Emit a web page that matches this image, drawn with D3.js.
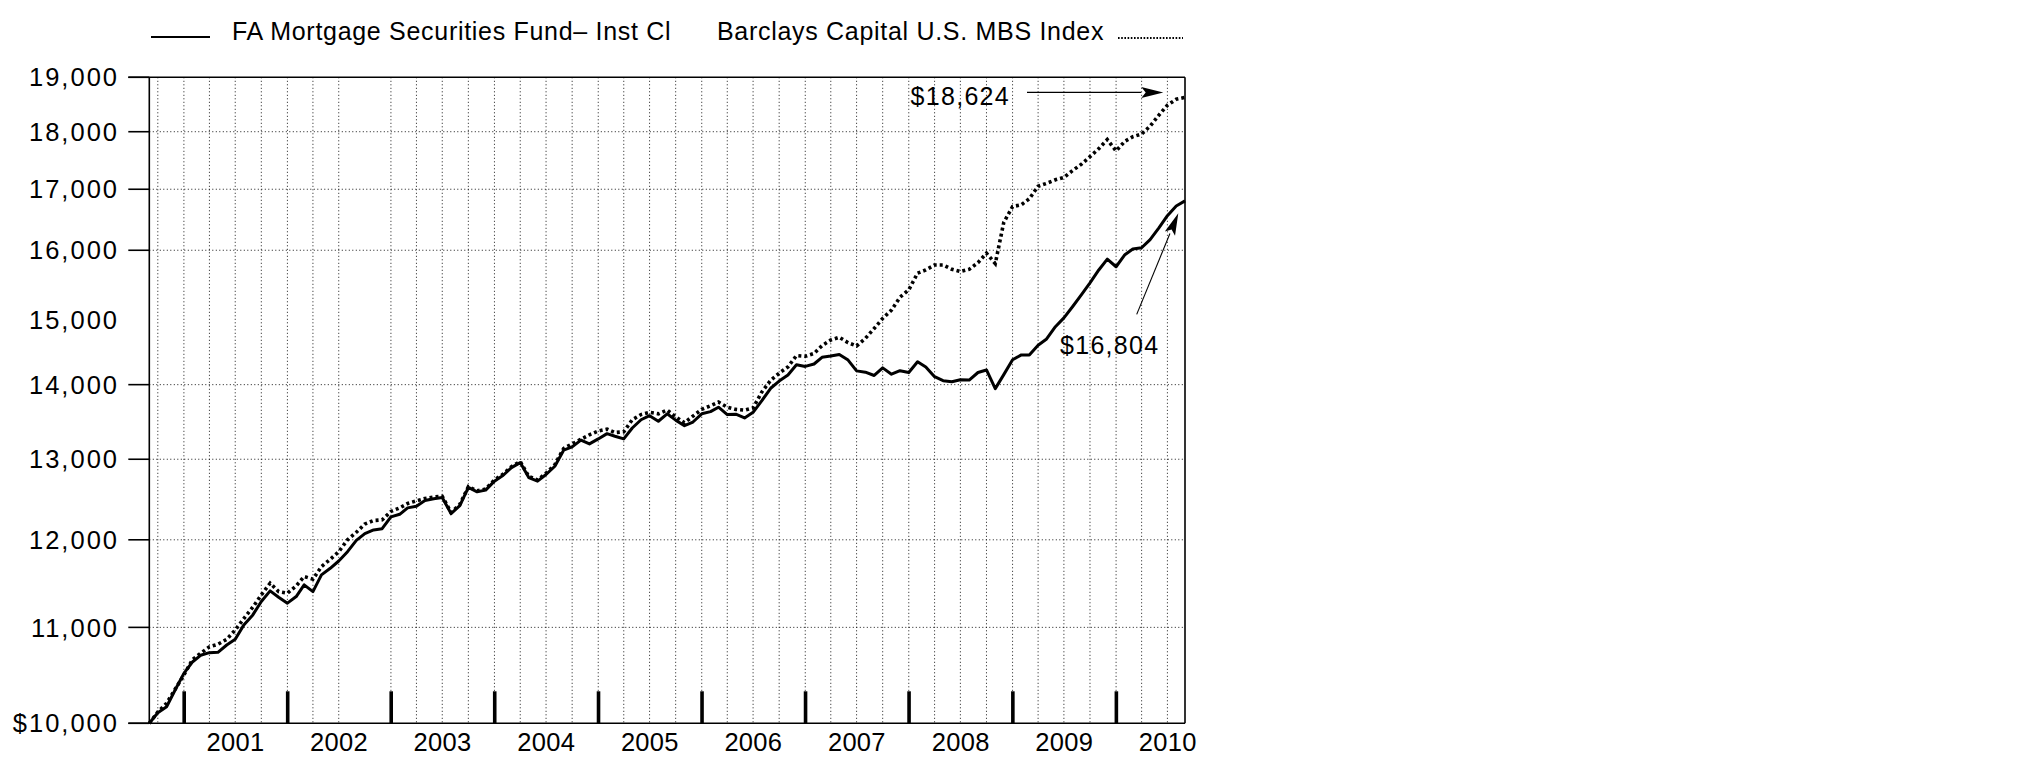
<!DOCTYPE html>
<html>
<head>
<meta charset="utf-8">
<script src="https://cdn.jsdelivr.net/npm/d3@7"></script>
<style>
html,body{margin:0;padding:0;background:#fff;}
svg{display:block;}
text{font-family:"Liberation Sans",Arial,Helvetica,sans-serif;fill:#000;}
</style>
</head>
<body>
<svg id="chart" width="2025" height="773"></svg>
<script>
// ---- data (month-end values, Aug 2000 .. Aug 2010) ----
const seriesNames = ["FA Mortgage Securities Fund\u2013 Inst Cl", "Barclays Capital U.S. MBS Index"];
const startYear = 2000, startMonth = 7; // August 2000 (0-based month)
const fundValues = [
  10000,10106,10166,10336,10509,10631,10699,10727,10731,10809,10870,11030,11137,11286,11406,11335,11268,11342,11475,11398,11589,11665,11750,11859,11993,
  12074,12118,12133,12276,12308,12387,12407,12477,12500,12516,12316,12415,12641,12586,12607,12720,12795,12892,12957,12766,12720,12804,12910,13117,13160,
  13250,13200,13265,13335,13300,13265,13410,13520,13575,13500,13600,13515,13440,13490,13600,13630,13690,13590,13595,13545,13620,13780,13950,14050,14135,14280,14256,
  14290,14385,14403,14427,14346,14193,14175,14128,14235,14146,14196,14170,14322,14248,14111,14055,14041,14069,14064,14170,14206,13945,
  14140,14350,14420,14420,14560,14650,14830,14960,15130,15310,15490,15690,15860,15740,15930,16020,16040,16170,16360,16560,16720,16804
];
const indexValues = [
  10000,10113,10201,10344,10492,10656,10720,10790,10817,10870,10971,11100,11223,11361,11494,11398,11380,11463,11570,11540,11685,11770,11859,12000,12090,
  12190,12232,12240,12343,12387,12441,12474,12503,12521,12530,
  12330,12430,12650,12600,12620,12735,12810,12905,12970,12780,12735,12820,12930,
  13140,13200,13260,13320,13370,13395,13350,13360,13520,13590,13620,13600,13650,13560,13480,13570,13660,13710,13760,13690,13660,13650,13680,13900,14060,14160,14250,14410,14400,
  14441,14553,14635,14674,14596,14549,14659,14804,14952,15077,15271,15383,15640,15690,15768,15768,15700,15665,15700,15804,15953,15790,
  16450,16710,16740,16840,17050,17100,17160,17200,17320,17430,17560,17700,17860,17660,17830,17910,17960,18100,18300,18480,18590,18624
];
const yTickValues = [10000,11000,12000,13000,14000,15000,16000,17000,18000,19000];
const yTickLabels = ["$10,000","11,000","12,000","13,000","14,000","15,000","16,000","17,000","18,000","19,000"];
const yUnmarkedTicks = [15000];          // label only, no tick / gridline
const yearLabels = ["2001","2002","2003","2004","2005","2006","2007","2008","2009","2010"];
const skippedGridQuarters = ["2002-09"];  // missing vertical gridline
const endLabels = ["$18,624", "$16,804"];

// ---- layout ----
const svg = d3.select("#chart");
const L = 149.3, R = 1185, T = 77.3, B = 723.3;

const monthEnd = i => new Date(Date.UTC(startYear, startMonth + i + 1, 0));
const dates = fundValues.map((_, i) => monthEnd(i));

const x = d3.scaleUtc().domain([dates[0], dates[dates.length - 1]]).range([L, R]);
const y = d3.scaleLog().domain([10000, 19000]).range([B, T]);

// vertical dotted gridlines at quarter ends
const quarterEnds = [];
for (let i = 1; i < dates.length - 1; i++) {
  const d = dates[i];
  if ((d.getUTCMonth() + 1) % 3 === 0) {
    const key = d.getUTCFullYear() + "-" + String(d.getUTCMonth() + 1).padStart(2, "0");
    if (!skippedGridQuarters.includes(key)) quarterEnds.push(d);
  }
}
svg.append("g").selectAll("line").data(quarterEnds).join("line")
  .attr("x1", d => x(d)).attr("x2", d => x(d))
  .attr("y1", T).attr("y2", B)
  .attr("stroke", "#000").attr("stroke-width", 1)
  .attr("stroke-dasharray", "1,2.5").attr("opacity", 0.9);

// horizontal dotted gridlines
const hGrid = yTickValues.filter(v => v > 10000 && v < 19000 && !yUnmarkedTicks.includes(v));
svg.append("g").selectAll("line").data(hGrid).join("line")
  .attr("x1", L).attr("x2", R)
  .attr("y1", d => y(d)).attr("y2", d => y(d))
  .attr("stroke", "#000").attr("stroke-width", 1)
  .attr("stroke-dasharray", "1,2.5").attr("opacity", 0.9);

// frame
const tickLen = 21;
svg.append("line").attr("x1", L - tickLen).attr("x2", R).attr("y1", T).attr("y2", T).attr("stroke", "#000").attr("stroke-width", 1.6);
svg.append("line").attr("x1", L - tickLen).attr("x2", R).attr("y1", B).attr("y2", B).attr("stroke", "#000").attr("stroke-width", 1.6);
svg.append("line").attr("x1", L).attr("x2", L).attr("y1", T).attr("y2", B).attr("stroke", "#000").attr("stroke-width", 1.6);
svg.append("line").attr("x1", R).attr("x2", R).attr("y1", T).attr("y2", B).attr("stroke", "#000").attr("stroke-width", 1.6);

// y ticks and labels
const yTickData = yTickValues.map((v, i) => ({v, label: yTickLabels[i], marked: !yUnmarkedTicks.includes(v)}));
svg.append("g").selectAll("line").data(yTickData.filter(d => d.marked)).join("line")
  .attr("x1", L - tickLen).attr("x2", L)
  .attr("y1", d => y(d.v)).attr("y2", d => y(d.v))
  .attr("stroke", "#000").attr("stroke-width", 1.6);
svg.append("g").selectAll("text").data(yTickData).join("text")
  .attr("x", 119)
  .attr("y", d => y(d.v) + (d.marked ? 0 : 5))
  .attr("dy", "0.36em")
  .attr("text-anchor", "end")
  .style("font-size", "25.5px").style("letter-spacing", "2px")
  .text(d => d.label);

// year boundary ticks (thick) and year labels
const yearBounds = yearLabels.map(s => new Date(Date.UTC(+s, 0, 1)));
svg.append("g").selectAll("line").data(yearBounds).join("line")
  .attr("x1", d => x(d)).attr("x2", d => x(d))
  .attr("y1", B).attr("y2", B - 32)
  .attr("stroke", "#000").attr("stroke-width", 3.6);
svg.append("g").selectAll("text").data(yearLabels).join("text")
  .attr("x", s => x(new Date(Date.UTC(+s, 6, 1))))
  .attr("y", 751)
  .attr("text-anchor", "middle")
  .style("font-size", "25.5px").style("letter-spacing", "0.3px")
  .text(s => s);

// series lines
const line = d3.line().x((d, i) => x(dates[i])).y(d => y(d));
svg.append("path").datum(indexValues)
  .attr("d", line).attr("fill", "none").attr("stroke", "#000")
  .attr("stroke-width", 3.6).attr("stroke-dasharray", "3,3");
svg.append("path").datum(fundValues)
  .attr("d", line).attr("fill", "none").attr("stroke", "#000")
  .attr("stroke-width", 3).attr("stroke-linejoin", "round");

// legend
const legendY = 37;
svg.append("line").attr("x1", 151).attr("x2", 210).attr("y1", legendY).attr("y2", legendY)
  .attr("stroke", "#000").attr("stroke-width", 2);
svg.append("text").attr("x", 232).attr("y", 40)
  .style("font-size", "25px").style("letter-spacing", "0.7px").text(seriesNames[0]);
svg.append("text").attr("x", 717).attr("y", 40)
  .style("font-size", "25px").style("letter-spacing", "0.7px").text(seriesNames[1]);
svg.append("line").attr("x1", 1118).attr("x2", 1183).attr("y1", legendY + 1).attr("y2", legendY + 1)
  .attr("stroke", "#000").attr("stroke-width", 2.2).attr("stroke-dasharray", "1.6,1.6");

// annotations with arrows
function arrow(x1, y1, x2, y2) {
  const ang = Math.atan2(y2 - y1, x2 - x1), hl = 22, hw = 5.5;
  const bx = x2 - hl * Math.cos(ang), by = y2 - hl * Math.sin(ang);
  svg.append("line").attr("x1", x1).attr("y1", y1).attr("x2", bx).attr("y2", by)
    .attr("stroke", "#000").attr("stroke-width", 1.1);
  const px = -Math.sin(ang) * hw, py = Math.cos(ang) * hw;
  svg.append("path")
    .attr("d", `M${x2},${y2} L${bx + px},${by + py} L${bx + hl*0.2*Math.cos(ang)},${by + hl*0.2*Math.sin(ang)} L${bx - px},${by - py} Z`)
    .attr("fill", "#000");
}
const xEnd = x(dates[dates.length - 1]);
const yIdxEnd = y(indexValues[indexValues.length - 1]);
const yFundEnd = y(fundValues[fundValues.length - 1]);

svg.append("text").attr("x", xEnd - 175).attr("y", yIdxEnd + 7.5)
  .attr("text-anchor", "end")
  .style("font-size", "25px").style("letter-spacing", "1.3px").text(endLabels[0]);
arrow(xEnd - 158, yIdxEnd - 5, xEnd - 21.7, yIdxEnd - 5);

svg.append("text").attr("x", xEnd - 125).attr("y", yFundEnd + 153)
  .style("font-size", "25px").style("letter-spacing", "1.3px").text(endLabels[1]);
arrow(xEnd - 48.3, yFundEnd + 113.5, xEnd - 6.7, yFundEnd + 12.3);
</script>
</body>
</html>
